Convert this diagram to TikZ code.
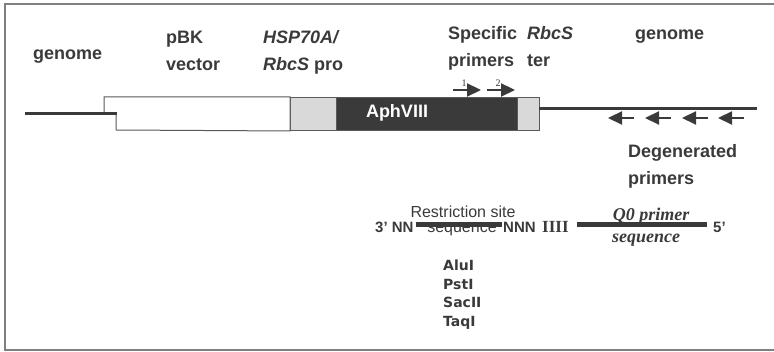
\documentclass[tikz,border=0pt]{standalone}
\usepackage{fontspec}
\setmainfont{Liberation Sans}
\newfontfamily\serf{Liberation Serif}
\newfontfamily\vsans{DejaVu Sans}
\usetikzlibrary{arrows.meta}
\definecolor{ink}{HTML}{3A3A3A}
\definecolor{lgray}{HTML}{D9D9D9}
\tikzset{
  px/.style={x=1pt, y=-1pt},
  g lbl/.style={font=\fontsize{18}{27}\selectfont\bfseries, text=ink, align=left, inner sep=0pt, anchor=base west},
  g part/.style={draw=black!65, line width=1pt, minimum height=33pt, anchor=north west, inner sep=0pt},
  g dna/.style={line width=3pt, draw=ink},
  g seq/.style={line width=5pt, draw=ink},
  g primer/.style={line width=2.2pt, draw=ink, -{Triangle[length=14pt, width=13pt]}},
  g num/.style={font=\serf\fontsize{10}{10}\selectfont, text=ink, inner sep=0pt},
  s txt/.style={font=\fontsize{15}{15}\selectfont\bfseries, text=ink, inner sep=0pt, anchor=base west},
  s cap/.style={font=\fontsize{16}{16}\selectfont, text=ink, inner sep=0pt, anchor=base},
  s q0/.style={font=\serf\fontsize{18}{18}\selectfont\bfseries\itshape, text=ink, inner sep=0pt, anchor=base},
  s enz/.style={font=\vsans\fontsize{14}{14}\selectfont\bfseries, text=ink, inner sep=0pt, anchor=base west},
}
\begin{document}
\begin{tikzpicture}[px]
\useasboundingbox (0,0) rectangle (774,352);
\draw[black!50, line width=2pt] (5,4) rectangle (790,350);
% labels on top (base = last line)
\node[g lbl] (gen1) at (33,60) {genome};
\node[g lbl] (pbk) at (166,71) {pBK\\vector};
\node[g lbl] (prom) at (263,71) {\itshape HSP70A/\\\itshape RbcS\upshape{} pro};
\node[g lbl] (spec) at (448,67) {Specific\\primers};
\node[g lbl] (term) at (527,67) {\itshape RbcS\\ter};
\node[g lbl] (gen2) at (635,40) {genome};
\node[g lbl] (degen) at (628,185) {Degenerated\\primers};
% the insert
\node[g part, fill=lgray, minimum width=46pt] (pro) at (290,97) {};
\node[g part, fill=ink, minimum width=181pt] (aph) at (336,97) {};
\node[g part, fill=lgray, minimum width=22pt] (ter) at (517,97) {};
\node[font=\fontsize{18}{18}\selectfont\bfseries, text=white] (aphtxt) at (397,113) {AphVIII};
\draw[g part, fill=white] (104,97) -- (pro.north west) -- (pro.south west) -- (116,130) -- (116,113) -- (104,113) -- cycle;
\coordinate (gl) at (25,114); \coordinate (notch) at (117,114);
\coordinate (gr0) at (539,109); \coordinate (gr) at (757,109);
\draw[g dna] (gl) -- (notch);
\draw[g dna] (gr0) -- (gr);
% primers
\foreach \x [count=\i] in {453,487} {
  \coordinate (sp\i a) at (\x,90); \coordinate (sp\i b) at (\x+28,90);
  \draw[g primer] (sp\i a) -- (sp\i b);
  \node[g num] (n\i) at (\x+11,83) {\i};
}
\foreach \x [count=\i] in {608,645,682,718} {
  \coordinate (dp\i a) at (\x+26,118); \coordinate (dp\i b) at (\x,118);
  \draw[g primer] (dp\i a) -- (dp\i b);
}
% Q0 primer
\node[s txt] (nn) at (375,233) {3’ NN};
\node[s txt] (nnn) at (503,233) {NNN};
\node[s txt, font=\serf\fontsize{17}{17}\selectfont\bfseries] (iiii) at (542,233) {IIII};
\node[s txt] (five) at (713,233) {5’};
\draw[g seq] ([xshift=2pt]nn.east |- 0,225) -- ([xshift=-1pt]nnn.west |- 0,225);
\draw[g seq] ([xshift=8pt]iiii.east |- 0,225) -- ([xshift=-6pt]five.west |- 0,225);
\node[s cap] (rsite) at (463,218) {Restriction site};
\node[s cap] (rseq) at (462,233) {sequence};
\node[s q0] (q0) at (651,221) {Q0 primer};
\node[s q0] (q0seq) at (646,243) {sequence};
\foreach \e [count=\i] in {AluI,PstI,SacII,TaqI}
  \node[s enz] (enz\i) at (443,252+18.6*\i) {\e};
\end{tikzpicture}
\end{document}
